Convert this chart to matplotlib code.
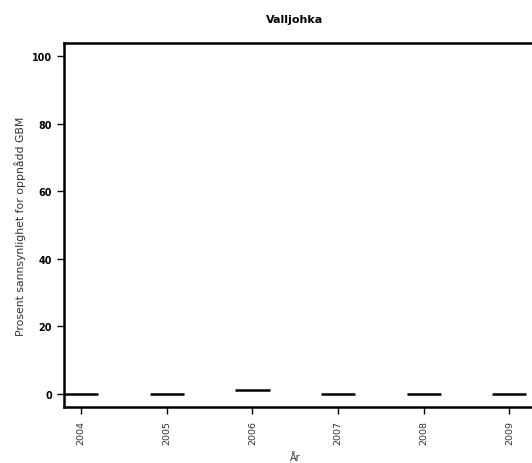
import matplotlib
matplotlib.use("Agg")
import matplotlib.pyplot as plt

plt.rcParams['font.family'] = ['DejaVu Sans']

# Data
years = ['2004', '2005', '2006', '2007', '2008', '2009']
medians = [0, 0, 1, 0, 0, 0]
yticks = [0, 20, 40, 60, 80, 100]

fig = plt.figure(figsize=(5.32, 4.64), dpi=100)
ax = fig.add_axes([64/532, 56/464, (595-64)/532, (408-44)/464])

pos = list(range(1, len(years) + 1))
for p, m in zip(pos, medians):
    ax.hlines(m, p - 0.2, p + 0.2, color='black', linewidth=1.8)

ax.set_xlim(0.8, 7.0)
ax.set_ylim(-4, 104)
ax.set_xticks(pos)
ax.set_xticklabels(years, rotation=90, fontsize=6.8, color='#333333')
ax.set_yticks(yticks)
ax.set_yticklabels([str(t) for t in yticks], fontsize=6.9, fontweight='bold')
ax.tick_params(axis='y', length=5, width=1, pad=3.6)
ax.tick_params(axis='x', length=5, width=1, pad=4.3)

for s in ['left', 'bottom', 'top']:
    ax.spines[s].set_linewidth(1.8)
ax.spines['right'].set_visible(False)

ax.set_ylabel('Prosent sannsynlighet for oppnådd GBM', fontsize=7.8, color='#333333')
ax.yaxis.set_label_coords(-0.072, 0.5)
fig.text(295/532, 1 - 20/464, 'Valljohka', ha='center', va='center', fontsize=8, fontweight='bold')
fig.text(295/532, 1 - 453/464, 'År', ha='center', va='top', fontsize=7, color='#333333')

plt.savefig('out.png', dpi=100)
